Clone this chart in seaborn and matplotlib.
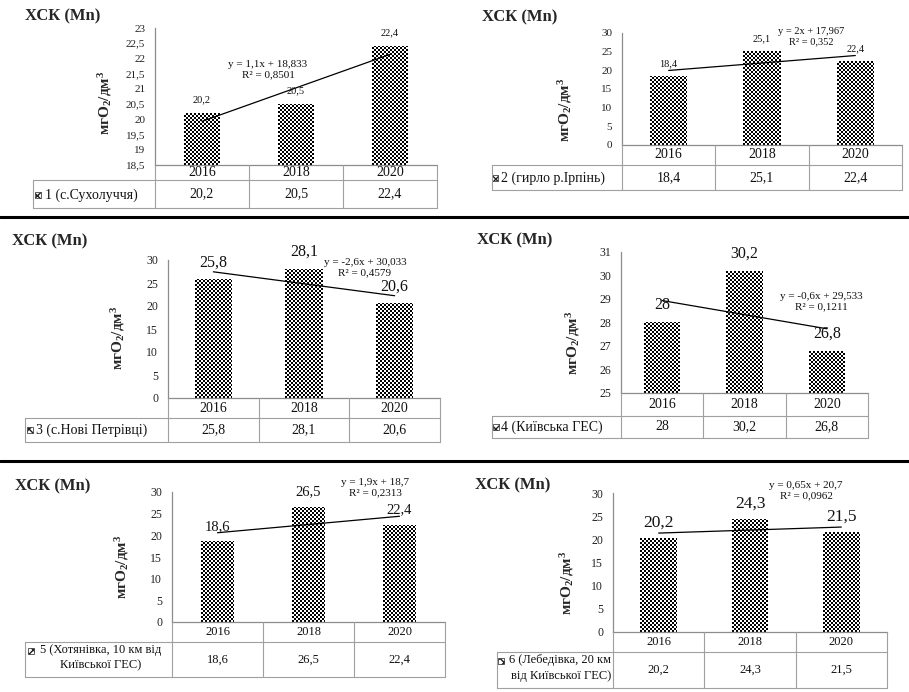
import numpy as np
import pandas as pd
import matplotlib
matplotlib.use("Agg")
import matplotlib.pyplot as plt
import seaborn as sns
from matplotlib.transforms import blended_transform_factory
from matplotlib.lines import Line2D
from matplotlib.patches import Rectangle
from matplotlib.ticker import FuncFormatter, MultipleLocator

# ---------------- data ----------------
years = ["2016", "2018", "2020"]
site1 = [20.2, 20.5, 22.4]
site2 = [18.4, 25.1, 22.4]
site3 = [25.8, 28.1, 20.6]
site4 = [28.0, 30.2, 26.8]
site5 = [18.6, 26.5, 22.4]
site6 = [20.2, 24.3, 21.5]
series = [site1, site2, site3, site4, site5, site6]
site_labels = [
    "1 (с.Сухолуччя)",
    "2 (гирло р.Ірпінь)",
    "3 (с.Нові Петрівці)",
    "4 (Київська ГЕС)",
    "5 (Хотянівка, 10 км від\nКиївської ГЕС)",
    "6 (Лебедівка, 20 км\nвід Київської ГЕС)",
]
equations = [
    "y = 1,1x + 18,833\nR² = 0,8501",
    "y = 2x + 17,967\nR² = 0,352",
    "y = -2,6x + 30,033\nR² = 0,4579",
    "y = -0,6x + 29,533\nR² = 0,1211",
    "y = 1,9x + 18,7\nR² = 0,2313",
    "y = 0,65x + 20,7\nR² = 0,0962",
]
title_text = "ХСК (Mn)"
ylabel_text = r"мгO$_\mathbf{2}$/дм$^\mathbf{3}$"
y_limits = [(18.5, 23), (0, 30), (0, 30), (25, 31), (0, 30), (0, 30)]
y_steps = [0.5, 5, 5, 1, 5, 5]

# ---------------- layout / style (pixels) ----------------
W, H = 909, 692
panels = [
    dict(box=(155, 28, 437, 165), yr=(165, 180), dr=(180, 208), lab_left=33,
         title=(25, 16), ylab=(105, 103), eq=(268, 70), efs=8, vfs=7.5, voff=13, tfs=10, tkfs=8,
         lab=dict(x=45, y=195, ha="left"), mark=(38, 195), bw=0.38),
    dict(box=(622, 33, 902, 145), yr=(145, 165), dr=(165, 190), lab_left=492,
         title=(482, 17), ylab=(565, 110), eq=(811, 37), efs=7.5, vfs=7.5, voff=13, tfs=10, tkfs=8,
         lab=dict(x=501, y=178, ha="left"), mark=(495, 178), bw=0.4),
    dict(box=(168, 260, 440, 398), yr=(398, 418), dr=(418, 442), lab_left=25,
         title=(12, 241), ylab=(118, 338), eq=(365, 268), efs=8, vfs=11.5, voff=17, tfs=10, tkfs=8.5,
         lab=dict(x=36, y=430, ha="left"), mark=(30, 430), bw=0.41),
    dict(box=(621, 252, 868, 393), yr=(393, 416), dr=(416, 438), lab_left=492,
         title=(477, 240), ylab=(573, 343), eq=(821, 302), efs=8, vfs=11.5, voff=17, tfs=10, tkfs=8.5,
         lab=dict(x=501, y=427, ha="left"), mark=(496, 427), bw=0.44),
    dict(box=(172, 492, 445, 622), yr=(622, 642), dr=(642, 677), lab_left=25,
         title=(15, 486), ylab=(122, 567), eq=(375, 488), efs=8, vfs=10.5, voff=15, tfs=9, tkfs=8.5,
         lab=dict(x=101, y=658, ha="center"), mark=(31, 651), bw=0.36),
    dict(box=(613, 493, 887, 632), yr=(632, 652), dr=(652, 688), lab_left=497,
         title=(475, 485), ylab=(567, 583), eq=(806, 491), efs=8, vfs=12.5, voff=16, tfs=9, tkfs=8.5,
         lab=dict(x=611, y=668, ha="right"), mark=(501, 661), bw=0.4),
]

sns.set_style("white")
plt.rcParams["font.family"] = ["Liberation Serif", "DejaVu Serif"]
plt.rcParams["mathtext.fontset"] = "custom"
plt.rcParams["mathtext.rm"] = "Liberation Serif:bold"
plt.rcParams["mathtext.bf"] = "Liberation Serif:bold"
plt.rcParams["mathtext.it"] = "Liberation Serif:bold"

fig = plt.figure(figsize=(W / 100, H / 100), dpi=100)
fig.patch.set_facecolor("white")


def fx(x):
    return x / W


def fy(y):
    return 1 - y / H


GRID = "#a0a0a0"
comma = lambda v: f"{v:g}".replace(".", ",")

for cfg, vals, lab, eq, ylim, ystep in zip(panels, series, site_labels, equations, y_limits, y_steps):
    L, T, R, B = cfg["box"]
    ax = fig.add_axes([fx(L), fy(B), (R - L) / W, (B - T) / H])
    df = pd.DataFrame({"year": years, "value": vals})
    sns.barplot(data=df, x="year", y="value", color="white", saturation=1,
                width=cfg["bw"], edgecolor="none", ax=ax)
    ax.set_xlim(-0.5, 2.5)
    ax.set_ylim(*ylim)
    ax.yaxis.set_major_locator(MultipleLocator(ystep))
    ax.yaxis.set_major_formatter(FuncFormatter(lambda v, _: comma(round(v, 2))))
    ax.tick_params(axis="y", length=0, pad=7, labelsize=cfg["tkfs"], labelcolor="#222222")
    ax.set_xticks([])
    ax.set_xlabel("")
    ax.set_ylabel("")
    for s in ["top", "right"]:
        ax.spines[s].set_visible(False)
    for s in ["left", "bottom"]:
        ax.spines[s].set_color("#8c8c8c")
        ax.spines[s].set_linewidth(0.9)
    ax.set_facecolor("white")

    # checkerboard texture clipped to each bar (2-px cells, snapped to the pixel grid)
    inv = ax.transData.inverted()
    for bar in list(ax.patches):
        x0 = bar.get_x()
        w = bar.get_width()
        y0 = max(bar.get_y(), ylim[0])
        y1 = bar.get_y() + bar.get_height()
        p0 = np.round(ax.transData.transform((x0, y0)))
        p1 = np.round(ax.transData.transform((x0 + w, y1)))
        nx = int(abs(p1[0] - p0[0]))
        ny = int(abs(p1[1] - p0[1]))
        if nx < 1 or ny < 1:
            continue
        board = ((np.arange(ny)[:, None] // 2 + np.arange(nx)[None, :] // 2) % 2).astype(float)
        d0 = inv.transform(p0)
        d1 = inv.transform(p1)
        im = ax.imshow(board, cmap="gray", vmin=0, vmax=1, extent=(d0[0], d1[0], d0[1], d1[1]),
                       aspect="auto", interpolation="nearest", zorder=2, origin="lower")
        im.set_clip_path(bar)
    ax.set_xlim(-0.5, 2.5)
    ax.set_ylim(*ylim)

    # value labels
    for i, v in enumerate(vals):
        ax.annotate(comma(v), (i, v), xytext=(0, cfg["voff"] * 0.72), textcoords="offset points",
                    ha="center", va="center", fontsize=cfg["vfs"], color="#111111", zorder=4,
                    annotation_clip=False)

    # linear trend line
    xs = np.arange(1, len(vals) + 1)
    k, b = np.polyfit(xs, vals, 1)
    ax.plot([0, len(vals) - 1], [k * xs[0] + b, k * xs[-1] + b], color="black", lw=0.9, zorder=3)

    # equation text
    fig.text(fx(cfg["eq"][0]), fy(cfg["eq"][1]), eq, ha="center", va="center",
             multialignment="center", fontsize=cfg["efs"], color="#111111", linespacing=1.15)

    # title and y label
    fig.text(fx(cfg["title"][0]), fy(cfg["title"][1]), title_text, ha="left", va="center",
             fontsize=12, fontweight="bold")
    fig.text(fx(cfg["ylab"][0]), fy(cfg["ylab"][1]), ylabel_text, ha="center", va="center",
             rotation=90, fontsize=11, fontweight="bold")

    # data table
    trans = blended_transform_factory(ax.transData, fig.transFigure)
    yt, yb = cfg["yr"]
    dt, db = cfg["dr"]
    for xv in [0.5, 1.5, 2.5]:
        fig.add_artist(Line2D([xv, xv], [fy(yt), fy(db)], transform=trans, color=GRID, lw=0.8))
    fig.add_artist(Line2D([-0.5, -0.5], [fy(yt), fy(db)], transform=trans, color=GRID, lw=0.8))
    ll = cfg["lab_left"]
    for yy in [yb, db]:
        fig.add_artist(Line2D([fx(ll), fx(R)], [fy(yy), fy(yy)], transform=fig.transFigure,
                              color=GRID, lw=0.8))
    fig.add_artist(Line2D([fx(ll), fx(ll)], [fy(yb), fy(db)], transform=fig.transFigure,
                          color=GRID, lw=0.8))
    for i, (yr, v) in enumerate(zip(years, vals)):
        fig.text(i, fy((yt + yb) / 2), yr, transform=trans, ha="center", va="center",
                 fontsize=cfg["tfs"], color="#111111")
        fig.text(i, fy((dt + db) / 2), comma(v), transform=trans, ha="center", va="center",
                 fontsize=cfg["tfs"], color="#111111")
    lc = cfg["lab"]
    fig.text(fx(lc["x"]), fy(lc["y"]), lab, ha=lc["ha"], va="center", multialignment=lc["ha"],
             fontsize=cfg["tfs"], color="#111111", linespacing=1.35)
    mx, my = cfg["mark"]
    fig.add_artist(Rectangle((fx(mx - 3), fy(my + 3)), 6 / W, 6 / H, transform=fig.transFigure,
                             facecolor="white", edgecolor="#222222", hatch="xxxx", lw=0.5))

# separators
for yy in [217, 461]:
    fig.add_artist(Line2D([0, 1], [fy(yy), fy(yy)], transform=fig.transFigure, color="black", lw=2.2))

fig.savefig("out.png", dpi=100, facecolor="white")
